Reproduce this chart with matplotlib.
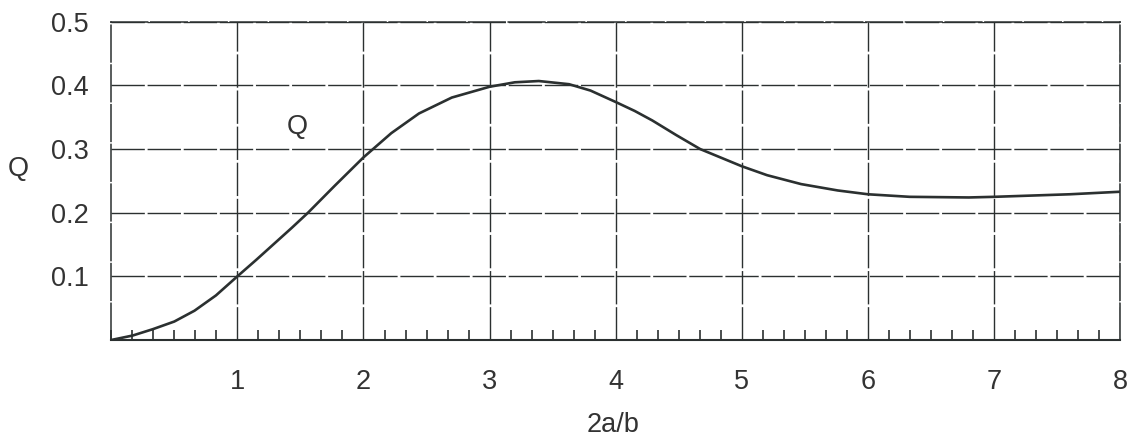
import matplotlib
matplotlib.use('Agg')
import matplotlib.pyplot as plt
from matplotlib.ticker import MultipleLocator

# curve
x_vals = [0.0, 0.17, 0.33, 0.5, 0.66, 0.83, 1.0, 1.15, 1.29, 1.43, 1.56, 1.77,
          2.0, 2.22, 2.44, 2.7, 3.0, 3.2, 3.39, 3.63, 3.8, 4.0, 4.15, 4.29,
          4.48, 4.67, 5.0, 5.2, 5.47, 5.76, 6.0, 6.33, 6.8, 7.0, 7.6, 8.0]
q_vals = [0.0, 0.007, 0.017, 0.029, 0.046, 0.07, 0.1, 0.126, 0.151, 0.176, 0.2, 0.242,
          0.287, 0.325, 0.356, 0.381, 0.398, 0.405, 0.407, 0.402, 0.392, 0.374, 0.36, 0.345,
          0.322, 0.30, 0.273, 0.259, 0.245, 0.235, 0.229, 0.225, 0.224, 0.225, 0.229, 0.233]
x_ticks = [1, 2, 3, 4, 5, 6, 7, 8]
y_ticks = [0.1, 0.2, 0.3, 0.4, 0.5]

plt.rcParams['font.family'] = ['Liberation Sans', 'DejaVu Sans']
ink = '#2b3030'
txt = '#333333'
fs = 19.5

fig = plt.figure(figsize=(11.35, 4.37), dpi=100)
ax = fig.add_axes([0.098, 0.222, 0.889, 0.728])

ax.plot(x_vals, q_vals, color=ink, lw=1.9, zorder=3, solid_joinstyle='round')

ax.set_xlim(0, 8)
ax.set_ylim(0, 0.5)
ax.set_xticks(x_ticks)
ax.set_yticks(y_ticks)
ax.set_xticklabels([str(t) for t in x_ticks])
ax.set_yticklabels([f'{t:.1f}' for t in y_ticks])
ax.xaxis.set_minor_locator(MultipleLocator(1 / 6))

ax.grid(True, which='major', color=ink, lw=1.0, linestyle=(0, (24, 2)))
ax.tick_params(axis='both', which='major', length=0, labelsize=fs, labelcolor=txt)
ax.tick_params(axis='x', which='major', pad=21)
ax.tick_params(axis='y', which='major', pad=16)
ax.tick_params(axis='x', which='minor', direction='in', length=7, width=1.2, color=ink)
ax.tick_params(axis='y', which='minor', length=0)

for spine in ax.spines.values():
    spine.set_color(ink)
    spine.set_linewidth(1.1)
    spine.set_linestyle((0, (24, 2)))
ax.spines['bottom'].set_linestyle('-')
ax.spines['bottom'].set_linewidth(1.5)

ax.set_xlabel('2a/b', fontsize=fs, color=txt, va='center')
ax.xaxis.set_label_coords(0.497, -0.267)
ax.set_ylabel('Q', fontsize=fs, color=txt, rotation=0, va='center', ha='center')
ax.yaxis.set_label_coords(-0.092, 0.538)
ax.text(1.475, 0.334, 'Q', fontsize=fs, color=txt, ha='center', va='center')

fig.savefig('out.png', dpi=100)
